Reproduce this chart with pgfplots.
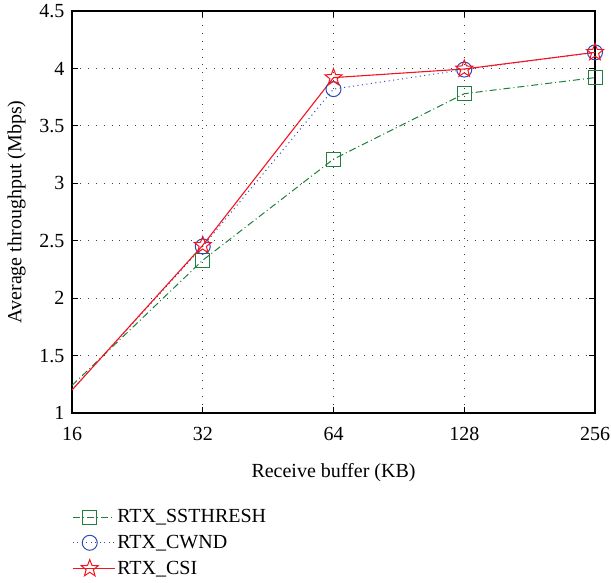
\documentclass[border=0pt]{standalone}
\usepackage{fontspec}
\setmainfont{Liberation Serif}
\usepackage{pgfplots}
\pgfplotsset{compat=1.18}
\definecolor{cg}{RGB}{30,128,60}
\definecolor{cb}{RGB}{45,75,180}
\definecolor{cr}{RGB}{245,20,30}
\pgfdeclareplotmark{pstar}{%
  \pgfpathmoveto{\pgfpointpolar{90}{\pgfplotmarksize}}%
  \pgfpathlineto{\pgfpointpolar{126}{0.42\pgfplotmarksize}}%
  \pgfpathlineto{\pgfpointpolar{162}{\pgfplotmarksize}}%
  \pgfpathlineto{\pgfpointpolar{198}{0.42\pgfplotmarksize}}%
  \pgfpathlineto{\pgfpointpolar{234}{\pgfplotmarksize}}%
  \pgfpathlineto{\pgfpointpolar{270}{0.42\pgfplotmarksize}}%
  \pgfpathlineto{\pgfpointpolar{306}{\pgfplotmarksize}}%
  \pgfpathlineto{\pgfpointpolar{342}{0.42\pgfplotmarksize}}%
  \pgfpathlineto{\pgfpointpolar{18}{\pgfplotmarksize}}%
  \pgfpathlineto{\pgfpointpolar{54}{0.42\pgfplotmarksize}}%
  \pgfpathclose\pgfusepathqstroke}
\begin{document}
\begin{tikzpicture}[x=1pt,y=1pt]
\path[use as bounding box] (0,0) rectangle (611,583);
\begin{axis}[
  at={(72pt,170pt)}, anchor=south west,
  scale only axis, width=523pt, height=402pt,
  xmode=log, log basis x=2, xmin=16, xmax=256,
  xtick={16,32,64,128,256}, xticklabels={16,32,64,128,256},
  ymin=1, ymax=4.5, ytick={1,1.5,2,2.5,3,3.5,4,4.5},
  yticklabels={1,1.5,2,2.5,3,3.5,4,4.5},
  font=\fontsize{20}{23}\selectfont,
  /pgf/number format/assume math mode=true,
  tick label style={font=\fontsize{20}{23}\selectfont},
  xticklabel style={yshift=-11pt},
  yticklabel style={xshift=-4pt},
  label style={font=\fontsize{20}{23}\selectfont},
  xlabel={Receive buffer (KB)},
  ylabel={Average throughput (Mbps)},
  xlabel style={yshift=-16pt},
  ylabel style={yshift=7pt},
  tick align=inside, tick pos=both, major tick length=6pt,
  axis line style={line width=1.1pt},
  every tick/.style={black, line width=0.8pt},
  grid=major,
  major grid style={black!75, line width=0.9pt, dash pattern=on 0.9pt off 7pt},
  legend style={at={(0,-0.235)}, anchor=north west, draw=none, fill=none,
    font=\fontsize{20}{23}\selectfont, row sep=7pt, inner sep=0pt,
    cells={anchor=west}},
  legend cell align=left,
  legend image code/.code={\draw[mark indices={2}] plot coordinates {(0pt,0pt)(17pt,0pt)(35pt,0pt)}; \path (0pt,0pt) -- (42pt,0pt);},
]
\addplot[cg, line width=1pt, dash pattern=on 7pt off 3pt on 1pt off 3pt, mark=square, mark size=7pt, mark indices={2,3,4,5}, mark options={solid, line width=1pt}]
  coordinates {(16,1.24) (32,2.33) (64,3.21) (128,3.78) (256,3.92)};
\addlegendentry{RTX\_SSTHRESH}
\addplot[cb, line width=1pt, dash pattern=on 1pt off 3.5pt, mark=o, mark size=7.5pt, mark indices={2,3,4,5}, mark options={solid, line width=1pt}]
  coordinates {(16,1.2) (32,2.45) (64,3.82) (128,3.99) (256,4.14)};
\addlegendentry{RTX\_CWND}
\addplot[cr, line width=1.1pt, mark=pstar, mark size=9pt, mark indices={2,3,4,5}, mark options={solid, line width=1pt}]
  coordinates {(16,1.2) (32,2.46) (64,3.92) (128,3.995) (256,4.14)};
\addlegendentry{RTX\_CSI}
\end{axis}
\end{tikzpicture}
\end{document}
